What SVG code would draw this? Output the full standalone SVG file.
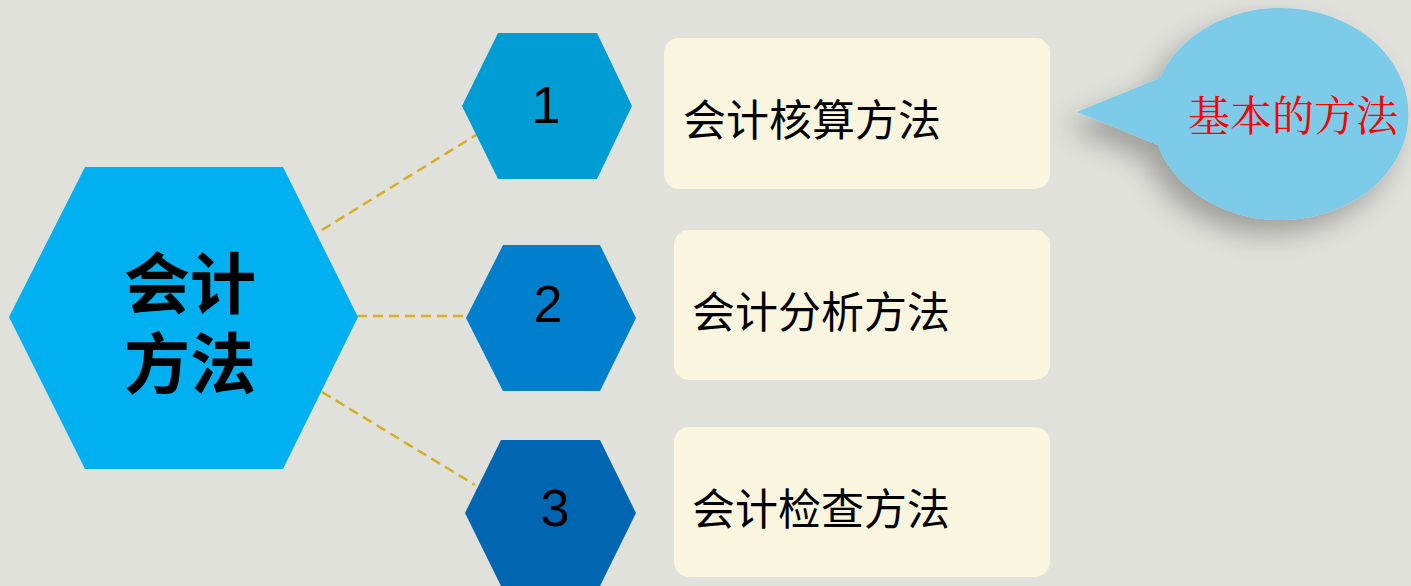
<svg xmlns="http://www.w3.org/2000/svg" width="1411" height="586" viewBox="0 0 1411 586">
<defs>
<filter id="sh" x="-40%" y="-40%" width="180%" height="190%">
<feGaussianBlur in="SourceAlpha" stdDeviation="14"/>
<feOffset dx="-12" dy="14" result="b"/>
<feComponentTransfer><feFuncA type="linear" slope="0.3"/></feComponentTransfer>
<feMerge><feMergeNode/><feMergeNode in="SourceGraphic"/></feMerge>
</filter>
</defs>
<style>
.cjk{font-family:"Noto Sans CJK SC","Noto Sans",sans-serif}
.num{font-family:"Liberation Sans","Noto Sans",sans-serif;font-size:52px;fill:#000;text-anchor:middle}
.lbl{font-size:43px;fill:#000}
.box{fill:#faf5df}
.conn{stroke:#d4ae24;stroke-width:2.5;stroke-dasharray:10 6;fill:none}
</style>
<rect width="1411" height="586" fill="#e1e1dc"/>
<g id="connectors">
<line class="conn" x1="322" y1="230" x2="476" y2="135"/>
<line class="conn" x1="357" y1="316" x2="466" y2="316"/>
<line class="conn" x1="322" y1="392" x2="475" y2="485"/>
</g>
<g id="center">
<polygon points="9,317 85,167 283,167 358,317 283,469 85,469" fill="#00b0f0"/>
<text class="cjk" x="190" y="308" font-size="66" font-weight="bold" text-anchor="middle" fill="#000">会计</text>
<text class="cjk" x="190" y="388" font-size="66" font-weight="bold" text-anchor="middle" fill="#000">方法</text>
</g>
<g id="hex1">
<polygon points="462,106 498,33 597,33 632,106 597,179 498,179" fill="#009dd4"/>
<text class="num" x="546" y="123">1</text>
</g>
<g id="hex2">
<polygon points="466,318 503,245 600,245 636,318 600,391 503,391" fill="#0080cc"/>
<text class="num" x="548" y="322">2</text>
</g>
<g id="hex3">
<polygon points="465,513 501,440 600,440 636,513 600,586 501,586" fill="#0066b2"/>
<text class="num" x="555" y="526">3</text>
</g>
<g id="box1">
<rect class="box" x="664" y="38" width="386" height="151" rx="15"/>
<text class="cjk lbl" x="683" y="136">会计核算方法</text>
</g>
<g id="box2">
<rect class="box" x="674" y="230" width="376" height="150" rx="15"/>
<text class="cjk lbl" x="692" y="328">会计分析方法</text>
</g>
<g id="box3">
<rect class="box" x="674" y="427" width="376" height="150" rx="15"/>
<text class="cjk lbl" x="692" y="525">会计检查方法</text>
</g>
<g id="bubble">
<path d="M1077,112 L1160,78 A128,106 0 1 1 1158,145 Z" fill="#7ccbe9" filter="url(#sh)"/>
<text x="1188" y="131" font-family="'Noto Serif CJK SC','Noto Sans CJK SC',serif" font-size="42" fill="#ff0000">基本的方法</text>
</g>
</svg>
